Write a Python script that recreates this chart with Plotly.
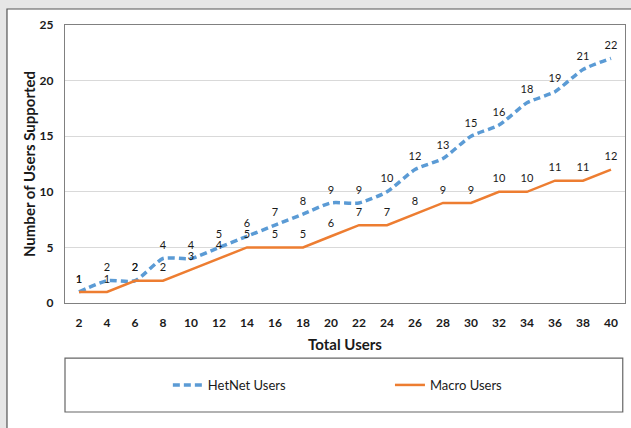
import plotly.graph_objects as go

# Users supported versus total users in the cell
total_users = ["2", "4", "6", "8", "10", "12", "14", "16", "18", "20",
               "22", "24", "26", "28", "30", "32", "34", "36", "38", "40"]
hetnet_users = [1, 2, 2, 4, 4, 5, 6, 7, 8, 9, 9, 10, 12, 13, 15, 16, 18, 19, 21, 22]
macro_users = [1, 1, 2, 2, 3, 4, 5, 5, 5, 6, 7, 7, 8, 9, 9, 10, 10, 11, 11, 12]

FONT = "Lato"
BLUE = "#5B9BD5"
ORANGE = "#ED7D31"
INK = "#1a1a1a"

fig = go.Figure()

fig.add_trace(go.Scatter(
    x=total_users, y=hetnet_users, name="HetNet Users",
    mode="lines+markers+text", text=[str(v) for v in hetnet_users],
    textposition="top center",
    textfont=dict(family=FONT, size=11, color=INK),
    marker=dict(size=9, color="rgba(0,0,0,0)"),
    line=dict(color=BLUE, width=3.5, dash="7px,4px", shape="spline", smoothing=0.6),
    legend="legend",
))

fig.add_trace(go.Scatter(
    x=total_users, y=macro_users, name="Macro Users",
    mode="lines+markers+text", text=[str(v) for v in macro_users],
    textposition="top center",
    textfont=dict(family=FONT, size=11, color=INK),
    marker=dict(size=9, color="rgba(0,0,0,0)"),
    line=dict(color=ORANGE, width=2.5),
    legend="legend2",
))

legend_style = dict(
    orientation="h", xref="container", yref="container",
    y=0.1005, xanchor="left", yanchor="middle",
    bgcolor="rgba(0,0,0,0)", itemwidth=30,
    font=dict(family=FONT, size=13, color=INK),
)

fig.update_layout(
    width=631, height=428,
    margin=dict(l=65, r=6, t=25, b=125, autoexpand=False),
    paper_bgcolor="#e6e6e6",
    plot_bgcolor="white",
    font=dict(family=FONT, color=INK),
    showlegend=True,
    legend=dict(x=0.266, **legend_style),
    legend2=dict(x=0.618, **legend_style),
    shapes=[
        # white chart frame
        dict(type="rect", xref="paper", yref="paper",
             x0=-0.1036, x1=1.03, y0=-0.5, y1=1.0576,
             fillcolor="white", line=dict(color="#555555", width=1.2),
             layer="below"),
        # legend box
        dict(type="rect", xref="paper", yref="paper",
             x0=0.0, x1=0.996, y0=-0.392, y1=-0.198,
             fillcolor="rgba(0,0,0,0)", line=dict(color="#666666", width=1.2),
             layer="above"),
    ],
)

fig.update_xaxes(
    type="category", range=[-0.5, len(total_users) - 0.5], automargin=False,
    showline=True, mirror=True, linecolor="#808080", linewidth=1.2,
    showgrid=False, ticks="", ticklabelstandoff=8,
    tickfont=dict(family=FONT, size=12, color=INK, weight="bold"),
    title=dict(text="<b>Total Users</b>", font=dict(family=FONT, size=15, color=INK),
               standoff=10),
)

fig.update_yaxes(
    range=[0, 25], dtick=5, automargin=False,
    showline=True, mirror=True, linecolor="#808080", linewidth=1.2,
    showgrid=True, gridcolor="#d9d9d9", gridwidth=1, zeroline=False,
    ticks="", ticklabelstandoff=8,
    tickfont=dict(family=FONT, size=12, color=INK, weight="bold"),
    title=dict(text="<b>Number of Users Supported</b>",
               font=dict(family=FONT, size=15, color=INK), standoff=0),
)

fig.write_html("out.html")
